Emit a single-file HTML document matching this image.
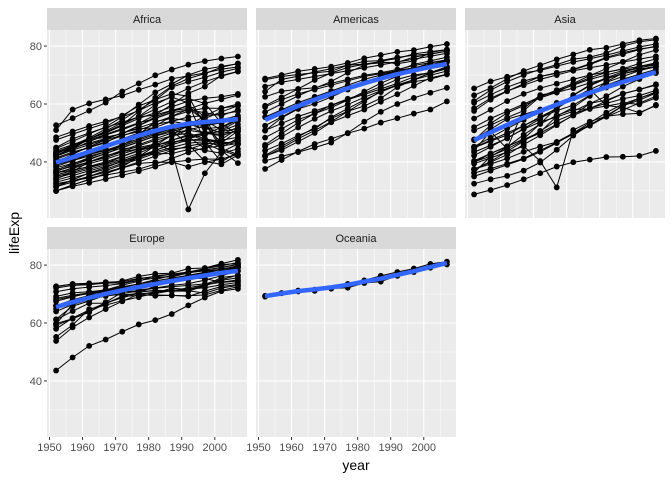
<!DOCTYPE html>
<html><head><meta charset="utf-8"><style>
html,body{margin:0;padding:0;background:#fff;width:672px;height:480px;overflow:hidden}
svg text{font-family:"Liberation Sans",Arial,sans-serif}
</style></head><body>
<svg id="chart" width="672" height="480" viewBox="0 0 672 480" xmlns="http://www.w3.org/2000/svg"></svg>
<script>
const years = [1952,1957,1962,1967,1972,1977,1982,1987,1992,1997,2002,2007];
const xTicks = [1950,1960,1970,1980,1990,2000];
const yTicks = [40,60,80];
const continents = ["Africa","Americas","Asia","Europe","Oceania"];
const africa = [
[52.7,55.1,57.7,60.5,64.3,67.1,69.9,71.9,73.6,74.8,75.7,76.4],
[51,58.1,60.2,61.6,62.9,64.9,66.7,68.7,69.7,70.7,72,72.8],
[44.6,47.1,49.6,52.1,55.6,59.8,64,66.9,70,72,73,73.9],
[42.7,45.3,48,50.2,52.8,57.4,62.2,66.2,68.8,70.5,72.7,74],
[42.9,45.9,47.9,50.3,52.9,55.7,59.7,62.7,65.4,67.7,69.6,71.2],
[41.9,44.4,47,49.3,51.1,53.3,56.2,59.8,63.7,66,69.8,71.3],
[43.1,45.7,48.3,51.4,54.5,58,61.4,65.8,67.7,69.2,71,72.3],
[45,48,50,51.9,53.7,55.5,58.2,60.8,61.9,60.2,53.4,49.3],
[47.6,49.6,51.5,53.3,56,59.3,61.5,63.6,62.7,52.6,46.6,50.7],
[48.5,50.5,52.4,54,55.6,57.7,60.4,62.4,60.4,46.8,40,43.5],
[40,41.5,43,44.1,44.6,45,46.2,44,23.6,36.1,43.4,46.2],
[30,31.6,32.8,34.1,35.4,36.8,38.4,40,38.3,39.9,41,42.6],
[30,32,34,36,37.9,39.5,39.9,39.9,40.6,41,41,42.7],
[30,32.1,33.9,35.9,38.3,41.8,45.6,49.3,52.6,55.9,58.6,59.4],
[42.3,44.7,47.9,50.7,53.6,55.5,56.2,57.8,59.3,54.4,51,54.1],
[43.1,44.8,46.5,48.1,49.9,51.8,53.7,55.7,57.5,58.6,58.5,60],
[36.3,37.8,39.4,41,42.8,44.5,45.8,46.9,47.5,47.5,46.6,46.9],
[34.1,36.7,40,42.2,43.5,44.5,44.9,46.7,48.1,49.4,50.7,52.9],
[40,42.6,45.3,47.6,49.2,50.4,49.8,51.5,48.8,44.6,47.8,51.5],
[41.4,43.4,45,46.6,49.6,52.5,55.6,57.7,58.5,54.3,43.9,39.6],
[33.7,35.3,36.9,38.5,40,41.7,43.9,46.4,48.4,49.9,51.8,54.5],
[37.3,39.3,41.5,43.6,45.8,48.9,52.4,55.8,58.2,60.2,61.6,63.1],
[36.7,38.9,40.8,42.9,44.9,46.9,48.9,50.4,52.2,55,57.3,59.4],
[38.5,40.4,42.6,44.8,47,49.4,54,55,54.3,52.2,49.9,50.4],
[32.5,33.5,34.5,35.5,36.5,37.5,39.3,41.2,43.3,44.9,45.5,46.4],
[31.3,33.8,36.2,38.1,40.3,42.5,42.8,42.9,44.3,46.3,44,42.1],
[36.3,37.2,38.4,39.5,41.8,43.8,45.6,47.5,49.4,47.5,45,48.3],
[42,44.1,46,47.8,50.1,51.4,51.8,50.8,46.1,40.2,39.2,42.4],
[42.1,45,47.7,48.5,49.8,52.5,55.1,57.2,59.7,55.6,44.6,42.6],
[35,36.5,38,39.5,41,43,45.5,47.5,49,50,50.5,51.5],
[39,40.5,42,43.5,45.5,47.5,49.5,51.5,53,54,54.5,56],
[33,34.5,36,37.5,39.5,41.5,43.5,45,46.5,47,47.5,48.5],
[38,39.5,41,43,45,47,49,51,52.5,53,53.5,55],
[34.5,36,37.5,39,40.5,42,44,46,47.5,48,47,46],
[40.5,42,44,46,48,50,52,54,55.5,56,56.5,57.5],
[31.5,33,35,37,39,41,43,44.5,45,44,43,44.5],
[37,38.5,40,41.5,43.5,45.5,47.5,49,50,48,46,47.5],
[43.5,45.5,47.5,49.5,51.5,53.5,55,57,58,57,56,58],
[35.5,37,38.5,40,42,44,46.5,49,51,52.5,53.5,55.5],
[32,33.5,35,36.5,38,40,42,44,45.5,46.5,46,47.5],
[39.5,41,42.5,44,46,48,50,52,52,50,49,51],
[44,46,48,50,52.5,55,57,59,61,62,62.5,63.5],
[36,38,40,42,44,46,48,50,51,50,49.5,52],
[41,43,45,47,49,51,53,54,53,51.5,52,55]
];
const americas = [
[68.8,70,71.3,72.1,72.9,74.2,75.8,76.9,78,78.6,79.8,80.7],
[68.4,69.5,70.2,70.8,71.3,73.4,74.7,75,76.1,76.8,77.3,78.2],
[37.6,40.7,43.6,46.2,48,49.9,51.5,53.6,55.1,56.7,58.1,60.9],
[40.4,41.9,43.4,45,46.7,50,53.9,57.3,60,62.1,63.9,65.6],
[42,44.1,47,50,53.7,56,58.1,60.8,63.4,66.3,69,70.3],
[41.9,44.7,48,50.9,53.9,57.4,60.9,64.5,66.4,67.7,68.6,70.2],
[42.3,45.4,48.6,51.9,55,57.5,59.3,62,65.8,68.4,70.8,72.9],
[43.9,46.3,49.1,51.4,55.4,58.4,61.4,64.1,66.5,68.4,69.9,71.4],
[50.9,53.3,55.7,57.6,59.5,61.5,63.3,65.2,67.1,69.4,71,72.4],
[50.8,55.2,58.3,60.1,62.4,65,67.4,69.5,71.5,73.7,74.9,76.2],
[59.4,62.3,65.2,68.3,70.7,72.6,73.7,74.2,74.4,76.2,77.2,78.3],
[62.5,64.4,65.1,65.6,67.1,68.5,69.9,70.8,71.9,73.3,74.3,75.3],
[64.3,68.5,69.6,71.1,72.2,73.4,73.8,74.6,73.9,74.9,77.8,78.7],
[45.9,49.8,53.5,56.8,59.6,61.8,63.7,66,68.5,70,70.8,72.2],
[48.4,51.4,54.6,56.7,58.8,61.3,64.3,67.2,69.6,72.3,74.2,75],
[57.2,60,62.8,65.4,67.8,70.8,73.4,74.8,75.7,77.3,78.1,78.8],
[66,67.5,68.5,69.5,70.5,71.5,72.5,73.5,74.5,75.5,76.5,77.5],
[55.5,58,60.5,62.5,64.5,66.5,68.5,70,71.5,72.5,73.5,74.5],
[45.3,48.6,51.9,54.9,57.6,59.8,62.3,64.6,66.6,68.4,70.6,72.2],
[52.5,55.5,58.5,61,63.5,65.5,67.5,69.5,71,72.5,73.5,74.5],
[59,61.5,63.5,65,66.5,68,69.5,70.5,71.5,72.5,73.5,75]
];
const asia = [
[63,65.5,68.7,71.4,73.4,75.4,77.1,78.7,79.4,80.7,82,82.6],
[61,64.8,67.7,70,72,73.6,75.5,76.2,77.6,80,81.5,82.2],
[65.4,67.8,69.4,70.8,71.6,73.1,74.5,75.6,76.9,78.3,79.7,80.7],
[28.8,30.3,32,34,36.1,38.4,39.9,40.8,41.7,41.8,42.1,43.8],
[32.5,34,35.2,37,39.8,44.2,49.1,52.9,55.6,58,60.3,62.7],
[39.4,41.4,43.4,45.4,40.3,31.2,51,53.9,55.8,56.5,56.8,59.7],
[37.4,40.2,43.6,47.2,50.7,54.2,56.6,58.6,60.2,61.8,62.9,64.7],
[44,50.5,44.5,58.4,63.1,64,65.5,67.3,68.7,70.4,72,73],
[37.5,39.3,41.2,43.5,45.3,46.9,50,52.8,56,59.4,62,64.1],
[45.3,48.4,51.5,54.5,57,60.4,62,65,59.5,58.8,57,59.5],
[47.5,52.7,55.3,57.7,62.6,64.8,67.1,69.8,72.2,74.6,77,78.6],
[39.9,42.9,45.3,48,53.2,58.7,63,66.3,68.8,70.5,71.6,72.8],
[42.2,45.2,48.3,51.3,53.8,55.5,57.5,60.2,61.3,63.6,65,66.8],
[36.3,41.9,45.1,49.4,53.1,56.1,58.1,58.3,59.3,60.3,59.9,62.1],
[36.2,37.7,39.4,41.2,44,46.7,49.6,52.5,55.7,59.4,61.3,63.8],
[60.4,63.2,65.8,67.9,69.5,70.8,71.8,73.6,75.8,77.2,78.8,80],
[37.5,39.9,42.5,46,49.2,52.7,56.2,60.1,62.7,66,68.6,70.7],
[40.4,42.9,45.4,47.8,50.3,55.8,58.8,62.8,67.7,70.7,73,74.2],
[44.9,47.2,49.3,52.5,55.2,57.7,59.6,63,65.7,68,69.5,71],
[58.5,62,64.5,66.5,68.5,70,71.5,72.5,73.5,74.5,75.5,76.5],
[55,58,61,63.5,65.5,67,68.5,70,71,72,73,74],
[50.9,53.3,56.9,59.5,62.1,64,66.8,69,70.9,72.2,74,75.6],
[57.6,61.5,64.4,67,69.5,70.6,72,73.9,76.1,77.7,79,79.8],
[43.4,45.7,48.1,51.5,54.9,58.7,63.1,66.6,69.1,71.1,72.4,74],
[47.8,51.3,54.8,56.4,58.1,60.1,62.1,64.2,66.5,68.6,70.3,72],
[45,47.5,50,52.5,55.5,58.5,62,65,67.5,69.5,71.5,73],
[52,55,57.5,60,62.5,64.5,66.5,68.5,70,71.5,72.5,73.5],
[40,42,44.5,47.5,50,53,56,58.5,61,63.5,65,66.5],
[35,37,39,41,43.5,46.5,50,53.5,57,60,62,64]
];
const europe = [
[72.5,73.5,73.7,73.7,74.5,76.1,77,77.2,78.8,79,80.5,81.8],
[72.7,73.4,73.5,74.1,74.3,75.4,76,75.9,77.3,78.3,79.1,80.2],
[72.1,73,73.2,73.8,73.8,75.2,76.1,76.8,77.4,78,78.5,79.8],
[43.6,48.1,52.1,54.3,57,59.5,61,63.1,66.1,68.8,71,71.8],
[55.2,59.3,64.8,66.2,67.7,68.9,70.4,72,71.6,73,75.7,76.4],
[53.8,58.5,61.9,64.8,67.5,69.9,70.7,71.1,72.2,73.2,74.1,74.9],
[59.8,61.5,63.9,66.6,69.3,70.4,72.8,74.1,74.9,76,77.3,78.1],
[58,61.7,64.5,66.9,68.7,70.3,70.2,71.2,71.7,72.2,73.2,74],
[59.2,61.5,63.7,67.2,70.6,73.1,74.1,74.9,75.4,75.4,74,74.5],
[64.9,66.7,69.7,71.4,73.1,74.4,76.3,76.9,77.6,78.8,79.8,80.9],
[65.9,67.8,69.2,71.1,72.2,73.5,75,76.4,77.4,78.8,80.2,80.5],
[61.3,65.8,67.6,69.6,70.9,70.7,71.3,71,71,72.8,74.7,75.6],
[64,66.4,68,69.5,69.8,70,69.4,69.6,69.2,71,72.6,73.3],
[59.6,66.6,69.5,70.4,70.9,70.8,71.1,71.3,71.2,70.3,72.1,73],
[61.1,64.1,66.8,66.8,69.2,69.5,69.7,69.5,69.4,69.7,71.3,72.5],
[69.2,70.4,70.8,71.4,72,72.8,74,75,76.4,77.2,78.5,79.4],
[67.5,69,70.5,71.5,72.5,73.5,74.5,75.5,76.5,77.5,78.5,79.5],
[66,68,69.5,70.5,71,71.5,72,72.5,73,73.5,75,76.5],
[68,69.2,70.2,70.9,71.4,72.2,73.2,74.4,75.6,76.6,77.9,79],
[70.8,71.8,72.4,72.9,73.6,74.7,75.5,76.2,77.3,78.3,79.2,80.3],
[65.9,67.1,68.3,69.3,70.2,71.1,72.1,73,73.6,74.8,76.3,77.9],
[68.5,69.6,70.4,71,71.6,72.4,73.5,74.5,75.6,76.8,78,79.3]
];
const oceania = [
[69.1,70.3,70.9,71.1,71.9,73.5,74.7,76.3,77.6,78.8,80.4,81.2],
[69.4,70.3,71.2,71.5,71.9,72.2,73.8,74.3,76.3,77.6,79.1,80.2]
];
const smoothAfrica = [39.8,41.6,43.5,45.4,47.3,49.1,50.8,52.2,53.2,53.8,54.2,54.8];
const smoothAmericas = [54.5,57,59.3,61.5,63.5,65.4,67.2,68.8,70.3,71.6,72.8,73.8];
const smoothAsia = [47.5,50.2,52.8,55.3,57.6,59.8,61.9,63.9,65.8,67.6,69.3,71];
const smoothEurope = [65.5,67.2,68.7,70.1,71.3,72.4,73.5,74.5,75.5,76.4,77.3,78];
const smoothOceania = [69.3,70.2,71,71.6,72.3,73.2,74.3,75.3,76.6,77.9,79.3,80.7];

const NS="http://www.w3.org/2000/svg";
const svg=document.getElementById('chart');
function mk(tag,attrs,parent){const e=document.createElementNS(NS,tag);for(const k in attrs)e.setAttribute(k,attrs[k]);(parent||svg).appendChild(e);return e;}
const PW=200, PH=188, X0=1949.25, X1=2009.75, Y0=20.65, Y1=85.55;
const panels=[
 {c:continents[0],d:africa,s:smoothAfrica,x:47,y:30},
 {c:continents[1],d:americas,s:smoothAmericas,x:256,y:30},
 {c:continents[2],d:asia,s:smoothAsia,x:465,y:30},
 {c:continents[3],d:europe,s:smoothEurope,x:47,y:249},
 {c:continents[4],d:oceania,s:smoothOceania,x:256,y:249}
];
panels.forEach((p,pi)=>{
  const sx=v=>p.x+(v-X0)/(X1-X0)*PW;
  const sy=v=>p.y+PH-(v-Y0)/(Y1-Y0)*PH;
  const g=mk('g',{});
  
  
  mk('rect',{x:p.x,y:p.y-22,width:PW,height:22,fill:'#D9D9D9'},g);
  const st=mk('text',{x:p.x+PW/2,y:p.y-7,'text-anchor':'middle','font-size':'11',fill:'#1A1A1A'},g);
  st.textContent=p.c;
  
  
  mk('rect',{x:p.x,y:p.y,width:PW,height:PH,fill:'#EBEBEB'},g);
  for(let v=1955;v<=2005;v+=10)mk('line',{x1:sx(v),x2:sx(v),y1:p.y,y2:p.y+PH,stroke:'#fff','stroke-width':0.5},g);
  [30,50,70].forEach(v=>mk('line',{x1:p.x,x2:p.x+PW,y1:sy(v),y2:sy(v),stroke:'#fff','stroke-width':0.5},g));
  xTicks.forEach(v=>mk('line',{x1:sx(v),x2:sx(v),y1:p.y,y2:p.y+PH,stroke:'#fff','stroke-width':1.1},g));
  yTicks.forEach(v=>mk('line',{x1:p.x,x2:p.x+PW,y1:sy(v),y2:sy(v),stroke:'#fff','stroke-width':1.1},g));
  p.d.forEach(series=>{
    const pts=series.map((v,i)=>sx(years[i]).toFixed(1)+','+sy(v).toFixed(1)).join(' ');
    const pl=mk('polyline',{points:pts,fill:'none',stroke:'#000','stroke-width':1},g);
    
    
    series.forEach((v,i)=>{
      const c=mk('circle',{cx:sx(years[i]),cy:sy(v),r:2.9,fill:'#000'},g);
      
      
    });
  });
  const sm=mk('polyline',{points:p.s.map((v,i)=>sx(years[i]).toFixed(1)+','+sy(v).toFixed(1)).join(' '),fill:'none',stroke:'#3366FF','stroke-width':4.5,'stroke-linecap':'butt','stroke-linejoin':'round'},g);
  
  
  if(pi===0||pi===3){
    yTicks.forEach(v=>{
      mk('line',{x1:p.x-3,x2:p.x,y1:sy(v),y2:sy(v),stroke:'#333','stroke-width':1},g);
      const t=mk('text',{x:p.x-5,y:sy(v)+4,'text-anchor':'end','font-size':'11',fill:'#4D4D4D'},g);
      t.textContent=v;
      
      
    });
  }
  if(pi>=3){
    xTicks.forEach(v=>{
      mk('line',{x1:sx(v),x2:sx(v),y1:p.y+PH,y2:p.y+PH+3,stroke:'#333','stroke-width':1},g);
      const t=mk('text',{x:sx(v),y:p.y+PH+14,'text-anchor':'middle','font-size':'11',fill:'#4D4D4D'},g);
      t.textContent=v;
      
      
    });
  }
});
const xt=mk('text',{x:356,y:470,'text-anchor':'middle','font-size':'14',fill:'#000'});
xt.textContent='year';


const yt=mk('text',{x:0,y:0,'text-anchor':'middle','font-size':'14',fill:'#000',transform:'translate(19,233) rotate(-90)'});
yt.textContent='lifeExp';


</script>
</body></html>
